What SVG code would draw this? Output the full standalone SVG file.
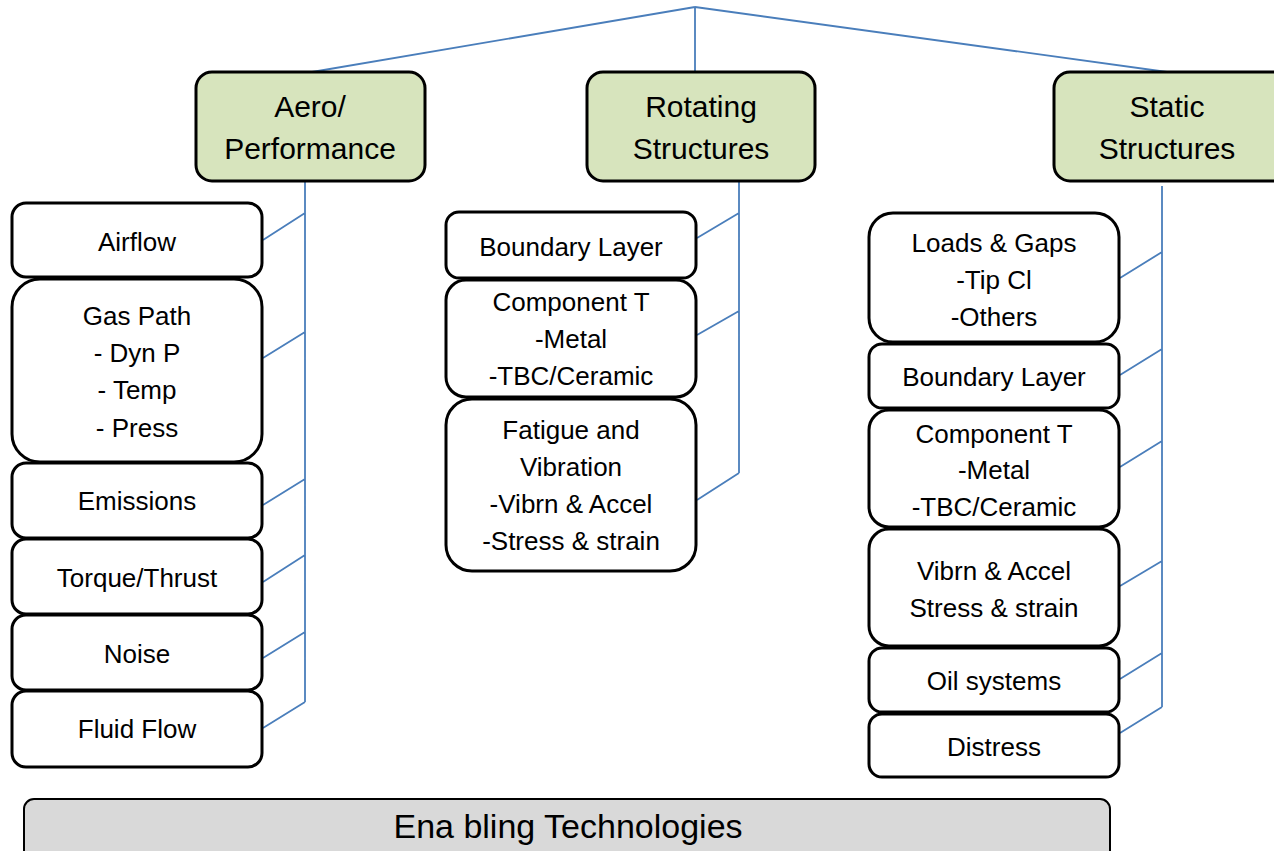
<svg xmlns="http://www.w3.org/2000/svg" width="1274" height="851" viewBox="0 0 1274 851">
<style>
.hdr{fill:#d7e4bd;stroke:#000;stroke-width:3}
.box{fill:#fff;stroke:#000;stroke-width:3}
.en{fill:#d9d9d9;stroke:#000;stroke-width:2}
.t{font-family:"Liberation Sans",Arial,sans-serif;font-size:26px;fill:#000;text-anchor:middle}
.th{font-family:"Liberation Sans",Arial,sans-serif;font-size:30px;fill:#000;text-anchor:middle}
.te{font-family:"Liberation Sans",Arial,sans-serif;font-size:34px;fill:#000;text-anchor:middle}
.c{fill:none;stroke:#4a7ebb;stroke-width:1.8}
</style>
<rect width="1274" height="851" fill="#fff"/>
<g id="connectors">
<path class="c" d="M695,7 L312,72 M695,7 L695,72 M695,7 L1167,72"/>
<path class="c" d="M305,181 L305,702 M263,240 L305,213 M263,358 L305,332 M263,505 L305,479 M263,582 L305,555 M263,658 L305,632 M263,728 L305,702"/>
<path class="c" d="M739,181 L739,473 M697,238 L739,213 M697,335 L739,311 M697,500 L739,473"/>
<path class="c" d="M1162,186 L1162,707 M1120,278 L1162,252 M1120,375 L1162,349 M1120,467 L1162,441 M1120,586 L1162,561 M1120,679 L1162,653 M1120,733 L1162,707"/>
</g>
<g id="aero"><rect class="hdr" x="196" y="72" width="229" height="109" rx="16"/><text class="th" x="310" y="117">Aero/</text><text class="th" x="310" y="159">Performance</text></g>
<g id="rotating"><rect class="hdr" x="587" y="72" width="228" height="109" rx="16"/><text class="th" x="701" y="117">Rotating</text><text class="th" x="701" y="159">Structures</text></g>
<g id="static"><rect class="hdr" x="1054" y="72" width="240" height="109" rx="16"/><text class="th" x="1167" y="117">Static</text><text class="th" x="1167" y="159">Structures</text></g>

<g id="airflow"><rect class="box" x="12" y="203" width="250" height="74" rx="14"/><text class="t" x="137" y="251">Airflow</text></g>
<g id="gaspath"><rect class="box" x="12" y="279" width="250" height="183" rx="28"/><text class="t" x="137" y="325">Gas Path</text><text class="t" x="137" y="362">- Dyn P</text><text class="t" x="137" y="399">- Temp</text><text class="t" x="137" y="437">- Press</text></g>
<g id="emissions"><rect class="box" x="12" y="463" width="250" height="75" rx="14"/><text class="t" x="137" y="510">Emissions</text></g>
<g id="torque"><rect class="box" x="12" y="539" width="250" height="75" rx="14"/><text class="t" x="137" y="587">Torque/Thrust</text></g>
<g id="noise"><rect class="box" x="12" y="615" width="250" height="75" rx="14"/><text class="t" x="137" y="663">Noise</text></g>
<g id="fluidflow"><rect class="box" x="12" y="691" width="250" height="76" rx="14"/><text class="t" x="137" y="738">Fluid Flow</text></g>

<g id="rot-boundary"><rect class="box" x="446" y="212" width="250" height="66" rx="13"/><text class="t" x="571" y="256">Boundary Layer</text></g>
<g id="rot-component"><rect class="box" x="446" y="280" width="250" height="117" rx="20"/><text class="t" x="571" y="311">Component T</text><text class="t" x="571" y="348">-Metal</text><text class="t" x="571" y="385">-TBC/Ceramic</text></g>
<g id="rot-fatigue"><rect class="box" x="446" y="399" width="250" height="172" rx="26"/><text class="t" x="571" y="439">Fatigue and</text><text class="t" x="571" y="476">Vibration</text><text class="t" x="571" y="513">-Vibrn &amp; Accel</text><text class="t" x="571" y="550">-Stress &amp; strain</text></g>

<g id="loads"><rect class="box" x="869" y="213" width="250" height="129" rx="24"/><text class="t" x="994" y="252">Loads &amp; Gaps</text><text class="t" x="994" y="289">-Tip Cl</text><text class="t" x="994" y="326">-Others</text></g>
<g id="st-boundary"><rect class="box" x="869" y="344" width="250" height="64" rx="13"/><text class="t" x="994" y="386">Boundary Layer</text></g>
<g id="st-component"><rect class="box" x="869" y="410" width="250" height="117" rx="20"/><text class="t" x="994" y="443">Component T</text><text class="t" x="994" y="479">-Metal</text><text class="t" x="994" y="516">-TBC/Ceramic</text></g>
<g id="st-vibrn"><rect class="box" x="869" y="529" width="250" height="117" rx="20"/><text class="t" x="994" y="580">Vibrn &amp; Accel</text><text class="t" x="994" y="617">Stress &amp; strain</text></g>
<g id="oil"><rect class="box" x="869" y="648" width="250" height="64" rx="13"/><text class="t" x="994" y="690">Oil systems</text></g>
<g id="distress"><rect class="box" x="869" y="714" width="250" height="63" rx="13"/><text class="t" x="994" y="756">Distress</text></g>

<g id="enabling"><rect class="en" x="24" y="799" width="1086" height="70" rx="10"/><text class="te" x="568" y="838">Ena bling Technologies</text></g>
</svg>
